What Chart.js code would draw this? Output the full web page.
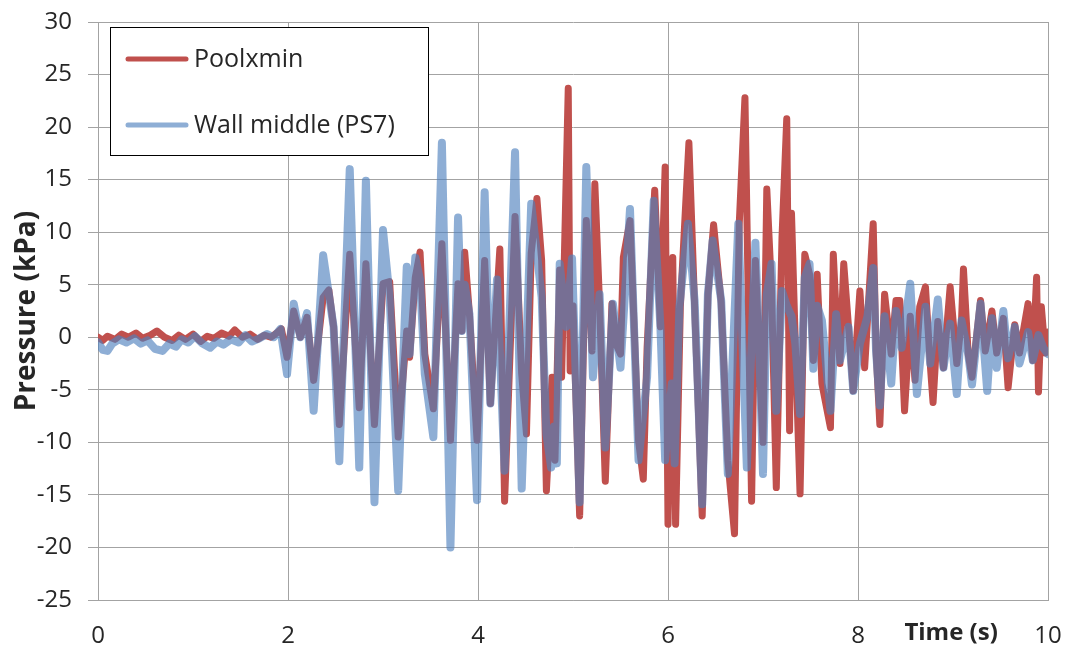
<!DOCTYPE html>
<html>
<head>
<meta charset="utf-8">
<title>Pressure</title>
<script src="https://cdn.jsdelivr.net/npm/chart.js@4.4.1/dist/chart.umd.min.js"></script>
<style>
    html, body { margin: 0; padding: 0; background: #fff; }
    #wrap { width: 1070px; height: 652px; }
</style>
</head>
<body>
<div id="wrap"><canvas id="pressureChart" width="1070" height="652"></canvas></div>
<script>
// Poolxmin: time (s) and pressure (kPa) at each turning point
const poolTime = [
    0.00, 0.05, 0.10, 0.18, 0.25, 0.32, 0.40, 0.47, 0.55, 0.62,
    0.70, 0.78, 0.85, 0.92, 1.00, 1.08, 1.15, 1.22, 1.30, 1.38,
    1.44, 1.52, 1.60, 1.68, 1.75, 1.82, 1.88, 1.93, 1.99, 2.06,
    2.13, 2.20, 2.27, 2.37, 2.43, 2.48, 2.54, 2.65, 2.75, 2.82,
    2.91, 3.00, 3.07, 3.16, 3.25, 3.28, 3.34, 3.39, 3.44, 3.53,
    3.62, 3.71, 3.79, 3.83, 3.86, 3.91, 3.99, 4.07, 4.13, 4.23,
    4.28, 4.39, 4.46, 4.51, 4.56, 4.62, 4.67, 4.72, 4.78, 4.81,
    4.86, 4.88, 4.95, 4.97, 5.00, 5.07, 5.14, 5.20, 5.23, 5.28,
    5.34, 5.41, 5.46, 5.50, 5.53, 5.60, 5.69, 5.74, 5.78, 5.86,
    5.92, 5.97, 6.00, 6.05, 6.08, 6.13, 6.22, 6.28, 6.36, 6.42,
    6.48, 6.56, 6.63, 6.70, 6.75, 6.81, 6.88, 6.92, 6.97, 7.00,
    7.04, 7.09, 7.14, 7.20, 7.25, 7.28, 7.30, 7.34, 7.39, 7.44,
    7.49, 7.53, 7.57, 7.62, 7.71, 7.74, 7.77, 7.81, 7.85, 7.90,
    7.95, 8.02, 8.07, 8.16, 8.19, 8.23, 8.28, 8.35, 8.40, 8.44,
    8.49, 8.55, 8.60, 8.65, 8.71, 8.76, 8.79, 8.84, 8.90, 8.97,
    9.04, 9.09, 9.11, 9.16, 9.20, 9.29, 9.34, 9.41, 9.46, 9.53,
    9.58, 9.65, 9.70, 9.79, 9.84, 9.88, 9.90, 9.93, 9.97, 10.00
];
const poolPressure = [
    0.0, -0.3, 0.1, -0.2, 0.3, 0.0, 0.4, -0.1, 0.2, 0.6,
    0.0, -0.3, 0.2, -0.2, 0.3, -0.4, 0.1, -0.1, 0.4, 0.1,
    0.7, 0.0, 0.3, -0.2, 0.2, 0.0, 0.4, 0.8, -1.9, 2.5,
    0.0, 1.9, -4.1, 3.8, 4.5, 1.0, -8.3, 7.9, -6.7, 7.0,
    -8.3, 5.1, 5.3, -9.5, 0.6, -1.9, 5.7, 8.1, -1.6, -6.8,
    8.9, -9.8, 5.1, 0.6, 8.1, 2.2, -9.8, 7.3, -6.3, 8.4,
    -15.6, 11.5, -3.5, -9.2, 8.0, 13.2, 7.3, -14.6, -3.8, -11.7,
    6.4, -3.8, 23.7, -3.2, 3.0, -17.0, 11.1, -1.3, 14.6, 3.0,
    -13.7, 3.2, -0.8, -1.6, 7.6, 11.1, -9.8, -13.5, -1.0, 14.0,
    1.0, 16.2, -17.8, 7.6, -17.8, 2.9, 18.5, 3.0, -17.0, 4.0,
    10.7, 3.3, -11.7, -18.7, 10.8, 22.8, -15.6, 7.3, -4.1, -10.0,
    14.1, 4.5, -14.3, 9.5, 20.8, -8.9, 11.8, -0.6, -14.9, 7.9,
    6.0, -2.2, 6.0, -4.4, -8.6, 7.9, 2.2, -2.5, 7.0, 1.0,
    -5.1, 4.4, -2.9, 10.8, -1.3, -8.3, 4.1, -1.6, 3.5, 3.5,
    -7.0, 2.0, -4.1, 2.9, 4.8, -2.5, -6.2, 1.5, -2.9, 4.8,
    -2.5, 1.6, 6.5, -1.6, -3.8, 3.5, -1.3, 2.5, -1.5, 1.8,
    -4.8, 1.2, -1.5, 3.2, -2.2, 5.7, -5.2, 2.9, -1.5, 0.5
];

// Wall middle (PS7)
const wallTime = [
    0.00, 0.05, 0.10, 0.15, 0.22, 0.30, 0.38, 0.45, 0.52, 0.60,
    0.68, 0.75, 0.82, 0.88, 0.95, 1.02, 1.10, 1.18, 1.25, 1.32,
    1.40, 1.48, 1.55, 1.62, 1.70, 1.78, 1.85, 1.92, 1.99, 2.06,
    2.13, 2.20, 2.27, 2.37, 2.48, 2.54, 2.65, 2.75, 2.82, 2.91,
    3.00, 3.07, 3.16, 3.25, 3.28, 3.34, 3.39, 3.44, 3.53, 3.62,
    3.71, 3.79, 3.83, 3.86, 3.91, 3.99, 4.07, 4.13, 4.20, 4.28,
    4.39, 4.46, 4.56, 4.62, 4.67, 4.72, 4.77, 4.80, 4.83, 4.86,
    4.93, 4.99, 5.07, 5.14, 5.21, 5.28, 5.34, 5.42, 5.50, 5.60,
    5.69, 5.78, 5.85, 5.92, 5.97, 6.04, 6.07, 6.12, 6.21, 6.28,
    6.36, 6.42, 6.47, 6.56, 6.63, 6.74, 6.83, 6.92, 6.97, 7.00,
    7.04, 7.09, 7.14, 7.20, 7.25, 7.30, 7.34, 7.39, 7.44, 7.49,
    7.53, 7.57, 7.62, 7.71, 7.77, 7.81, 7.90, 7.95, 8.02, 8.10,
    8.16, 8.19, 8.23, 8.28, 8.35, 8.40, 8.46, 8.55, 8.62, 8.71,
    8.76, 8.84, 8.90, 8.97, 9.04, 9.09, 9.16, 9.20, 9.29, 9.36,
    9.41, 9.46, 9.53, 9.58, 9.65, 9.70, 9.79, 9.84, 9.90, 9.95,
    10.00
];
const wallPressure = [
    -0.5, -1.2, -1.3, -0.6, -0.2, -0.5, -0.1, -0.6, -0.3, -1.1,
    -1.3, -0.6, -0.9, -0.2, -0.5, 0.1, -0.6, -1.0, -0.4, -0.7,
    -0.2, -0.5, 0.2, -0.4, -0.1, 0.3, 0.0, 0.8, -3.5, 3.2,
    0.0, 2.3, -7.0, 7.8, 1.0, -11.8, 16.0, -12.4, 14.9, -15.7,
    10.2, 3.8, -14.6, 6.7, -1.6, 7.6, 5.5, -3.5, -9.5, 18.5,
    -20.0, 11.4, 0.6, 5.0, 2.2, -15.5, 13.8, -6.3, 5.5, -12.7,
    17.6, -14.4, 12.7, 8.0, 3.8, -9.2, -12.4, -8.5, -12.0, 7.0,
    1.0, 7.5, -15.7, 16.2, -3.8, 4.1, -10.5, 3.2, -2.9, 12.2,
    -11.7, -3.8, 13.0, 1.0, -11.7, -4.4, -12.0, 2.9, 10.8, 3.5,
    -15.9, 4.1, 9.2, 3.5, -13.0, 10.8, -12.4, 9.0, -4.1, -13.0,
    4.1, 7.0, -7.0, 4.4, 3.0, 2.0, -0.6, -7.3, 5.7, 7.0,
    -3.0, 3.0, 1.6, -7.0, 2.2, -2.2, 1.0, -5.1, -0.6, 2.0,
    6.6, -1.3, -6.5, 2.0, -4.4, 2.5, -1.0, 5.1, -5.4, 2.9,
    -2.5, 3.6, -2.9, 1.3, -5.4, 1.6, -1.6, -4.5, 3.2, -5.1,
    1.8, -2.9, 2.5, -2.0, 1.0, -2.5, 0.5, -2.2, 0.2, -1.0,
    -1.6
];

const seriesNames = ["Poolxmin", "Wall middle (PS7)"];
const timeTicks = [0, 2, 4, 6, 8, 10];
const pressureTicks = [-25, -20, -15, -10, -5, 0, 5, 10, 15, 20, 25, 30];

const RED = "#c0504d";
const BLUE = "rgba(79, 129, 189, 0.64)";
const GRID = "#a3a3a3";
const TEXT = "#262626";

function toPoints(times, values) {
    return times.map(function (t, i) { return { x: t, y: values[i] }; });
}

// Bordered legend box drawn inside the plot area (top-left)
const boxLegend = {
    id: "boxLegend",
    afterDraw: function (chart) {
        const ctx = chart.ctx;
        const area = chart.chartArea;
        const x = area.left + 12;
        const y = area.top + 5;
        const w = 318;
        const h = 128;
        ctx.save();
        ctx.fillStyle = "#fff";
        ctx.fillRect(x, y, w, h);
        ctx.strokeStyle = "#000";
        ctx.lineWidth = 1;
        ctx.strokeRect(x + 0.5, y + 0.5, w, h);
        ctx.font = "25px 'Open Sans'";
        ctx.textBaseline = "middle";
        ctx.lineCap = "round";
        chart.data.datasets.forEach(function (ds, i) {
            const ly = y + 32 + i * 66;
            ctx.strokeStyle = ds.borderColor;
            ctx.lineWidth = 5;
            ctx.beginPath();
            ctx.moveTo(x + 18, ly);
            ctx.lineTo(x + 76, ly);
            ctx.stroke();
            ctx.fillStyle = TEXT;
            ctx.fillText(ds.label, x + 84, ly + 1);
        });
        ctx.restore();
    }
};

// "Time (s)" sits on the tick-label row, just left of the last label
const timeTitle = {
    id: "timeTitle",
    afterDraw: function (chart) {
        const ctx = chart.ctx;
        const xs = chart.scales.x;
        ctx.save();
        ctx.font = "bold 24px 'Open Sans'";
        ctx.fillStyle = TEXT;
        ctx.textAlign = "center";
        ctx.textBaseline = "middle";
        ctx.fillText("Time (s)", xs.getPixelForValue(8.98), chart.chartArea.bottom + 33);
        ctx.restore();
    }
};

const ctx = document.getElementById("pressureChart").getContext("2d");
new Chart(ctx, {
    type: "line",
    data: {
        datasets: [
            {
                label: seriesNames[0],
                data: toPoints(poolTime, poolPressure),
                borderColor: RED,
                borderWidth: 7,
                order: 2
            },
            {
                label: seriesNames[1],
                data: toPoints(wallTime, wallPressure),
                borderColor: BLUE,
                borderWidth: 8,
                order: 1
            }
        ]
    },
    options: {
        responsive: false,
        animation: false,
        devicePixelRatio: 1,
        elements: {
            point: { radius: 0, hoverRadius: 0 },
            line: { tension: 0, borderJoinStyle: "round", borderCapStyle: "round", fill: false }
        },
        layout: { padding: { top: 22, right: 22, left: 0, bottom: 0 } },
        plugins: {
            legend: { display: false },
            tooltip: { enabled: false }
        },
        scales: {
            x: {
                type: "linear",
                min: 0,
                max: 10,
                afterBuildTicks: function (scale) {
                    scale.ticks = timeTicks.map(function (v) { return { value: v }; });
                },
                afterFit: function (scale) {
                    // fixed band under the plot; end labels may overhang
                    scale.height = 52;
                    scale.paddingLeft = 0;
                    scale.paddingRight = 0;
                },
                grid: { color: GRID, lineWidth: 1, drawTicks: false },
                border: { color: GRID },
                ticks: {
                    padding: 22,
                    maxRotation: 0,
                    color: TEXT,
                    font: { family: "'Open Sans'", size: 24 }
                }
            },
            y: {
                min: -25,
                max: 30,
                afterBuildTicks: function (scale) {
                    scale.ticks = pressureTicks.map(function (v) { return { value: v }; });
                },
                afterFit: function (scale) {
                    scale.width = 98;
                    scale.paddingTop = 0;
                    scale.paddingBottom = 0;
                },
                grid: { color: GRID, lineWidth: 1, tickLength: 10 },
                border: { color: GRID },
                ticks: {
                    padding: 16,
                    color: TEXT,
                    font: { family: "'Open Sans'", size: 24 }
                },
                title: {
                    display: true,
                    text: "Pressure (kPa)",
                    color: TEXT,
                    padding: { top: 10, bottom: 0 },
                    font: { family: "'Open Sans'", size: 28, weight: "bold" }
                }
            }
        }
    },
    plugins: [boxLegend, timeTitle]
});
</script>
</body>
</html>
